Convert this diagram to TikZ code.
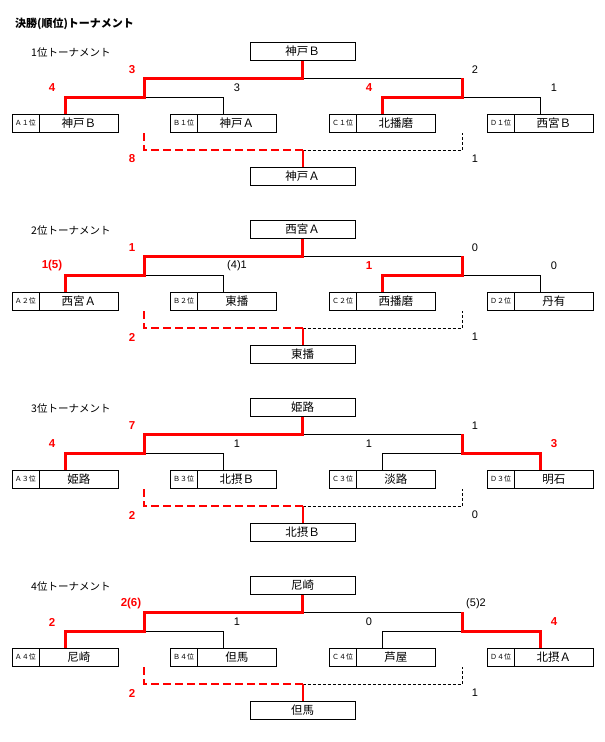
\documentclass[tikz,border=0pt]{standalone}
\usepackage{fontspec}
\setmainfont{Liberation Sans}
\newfontfamily\jp{Noto Sans CJK JP}
\usetikzlibrary{calc}
\definecolor{redline}{RGB}{255,0,0}
\tikzset{
  box/.style={draw, line width=0.9pt, inner sep=0pt, minimum width=105pt, minimum height=18pt, font=\jp\fontsize{11.5}{11.5}\selectfont},
  teambox/.style={draw, line width=0.9pt, inner sep=0pt, minimum width=106pt, minimum height=18pt},
  cell/.style={draw, line width=0.9pt, inner sep=0pt, minimum width=27pt, minimum height=18pt, font=\jp\fontsize{7}{7}\selectfont, anchor=west},
  tname/.style={inner sep=0pt, font=\jp\fontsize{11.5}{11.5}\selectfont},
  thin/.style={line width=0.9pt},
  win/.style={draw=redline, line width=3pt, line join=miter},
  windash/.style={draw=redline, line width=2pt, dash pattern=on 8pt off 4pt},
  windrop/.style={draw=redline, line width=2pt},
  losedash/.style={line width=0.8pt, dash pattern=on 3pt off 2pt},
  rscore/.style={text=redline, font=\bfseries\fontsize{11.5}{11.5}\selectfont, inner sep=0pt},
  bscore/.style={font=\fontsize{11}{11}\selectfont, inner sep=0pt},
  heading/.style={anchor=west, inner sep=0pt, font=\jp\fontsize{10.5}{10.5}\selectfont},
}
% #1 prefix, #2 y offset, #3 full-width rank digit, #4 top, #5 A, #6 B, #7 C, #8 D, #9 bottom
\newcommand\Tbracket[9]{%
\begin{scope}[shift={(0,#2)}]
  \node[box] (#1-top) at (302.5,51.5) {#4};
  \node[box] (#1-bot) at (302.5,176) {#9};
  \node[teambox] (#1-A) at (65,123) {};
  \node[cell] (#1-Al) at (#1-A.west) {Ａ#3位};
  \node[tname] (#1-An) at ($(#1-Al.east)!0.5!(#1-A.east)$) {#5};
  \node[teambox] (#1-B) at (223,123) {};
  \node[cell] (#1-Bl) at (#1-B.west) {Ｂ#3位};
  \node[tname] (#1-Bn) at ($(#1-Bl.east)!0.5!(#1-B.east)$) {#6};
  \node[teambox] (#1-C) at (382,123) {};
  \node[cell] (#1-Cl) at (#1-C.west) {Ｃ#3位};
  \node[tname] (#1-Cn) at ($(#1-Cl.east)!0.5!(#1-C.east)$) {#7};
  \node[teambox] (#1-D) at (540,123) {};
  \node[cell] (#1-Dl) at (#1-D.west) {Ｄ#3位};
  \node[tname] (#1-Dn) at ($(#1-Dl.east)!0.5!(#1-D.east)$) {#8};
  \coordinate (#1-J) at (302.5,78);
  \coordinate (#1-L) at (144,78);
  \coordinate (#1-R) at (462,78);
  \coordinate (#1-L2) at (144,97);
  \coordinate (#1-R2) at (462,97);
  \coordinate (#1-LD) at (144,133);
  \coordinate (#1-LM) at (144,150);
  \coordinate (#1-M) at (302.5,150);
  \coordinate (#1-RM) at (462,150);
  \coordinate (#1-RD) at (462,133);
  \draw[thin] (#1-L) -- (#1-R);
  \draw[thin] (#1-L) -- (#1-L2);
  \draw[thin] (#1-R) -- (#1-R2);
  \draw[thin] (#1-A.north) -- (#1-A.north |- #1-L2) -- (#1-B.north |- #1-L2) -- (#1-B.north);
  \draw[thin] (#1-C.north) -- (#1-C.north |- #1-R2) -- (#1-D.north |- #1-R2) -- (#1-D.north);
  \draw[losedash] (#1-M) -- (#1-RM) -- (#1-RD);
  \draw[windash] (#1-LD) -- (#1-LM) -- (#1-M);
  \draw[windrop] (#1-M) -- (#1-bot.north);
\end{scope}}
\begin{document}
\begin{tikzpicture}[x=1pt, y=-1pt]
\useasboundingbox (0,0) rectangle (605,742);
\node[heading, font=\jp\bfseries\fontsize{11}{11}\selectfont] (title) at (15,24) {決勝(順位)トーナメント};

% ---------- block 1
\node[heading] (h1) at (31,53) {1位トーナメント};
\Tbracket{b1}{0}{１}{神戸Ｂ}{神戸Ｂ}{神戸Ａ}{北播磨}{西宮Ｂ}{神戸Ａ}
\draw[win] (b1-top.south) -- (b1-J) -- (b1-L) -- (b1-L2) -- (b1-A.north |- b1-L2) -- (b1-A.north);
\draw[win] (b1-R) -- (b1-R2) -- (b1-C.north |- b1-R2) -- (b1-C.north);
\begin{scope}[shift={(0,0)}]
  \node[rscore] (b1-s1) at (132,70) {3};
  \node[bscore] (b1-s2) at (475,70) {2};
  \node[rscore] (b1-s3) at (52,88) {4};
  \node[bscore] (b1-s4) at (237,88) {3};
  \node[rscore] (b1-s5) at (369,88) {4};
  \node[bscore] (b1-s6) at (554,88) {1};
  \node[rscore] (b1-s7) at (132,159) {8};
  \node[bscore] (b1-s8) at (475,159) {1};
\end{scope}

% ---------- block 2
\node[heading] (h2) at (31,231) {2位トーナメント};
\Tbracket{b2}{178}{２}{西宮Ａ}{西宮Ａ}{東播}{西播磨}{丹有}{東播}
\draw[win] (b2-top.south) -- (b2-J) -- (b2-L) -- (b2-L2) -- (b2-A.north |- b2-L2) -- (b2-A.north);
\draw[win] (b2-R) -- (b2-R2) -- (b2-C.north |- b2-R2) -- (b2-C.north);
\begin{scope}[shift={(0,178)}]
  \node[rscore] (b2-s1) at (132,70) {1};
  \node[bscore] (b2-s2) at (475,70) {0};
  \node[rscore] (b2-s3) at (52,88) {1(5)};
  \node[bscore] (b2-s4) at (237,88) {(4)1};
  \node[rscore] (b2-s5) at (369,88) {1};
  \node[bscore] (b2-s6) at (554,88) {0};
  \node[rscore] (b2-s7) at (132,159) {2};
  \node[bscore] (b2-s8) at (475,159) {1};
\end{scope}

% ---------- block 3
\node[heading] (h3) at (31,409) {3位トーナメント};
\Tbracket{b3}{356}{３}{姫路}{姫路}{北摂Ｂ}{淡路}{明石}{北摂Ｂ}
\draw[win] (b3-top.south) -- (b3-J) -- (b3-L) -- (b3-L2) -- (b3-A.north |- b3-L2) -- (b3-A.north);
\draw[win] (b3-R) -- (b3-R2) -- (b3-D.north |- b3-R2) -- (b3-D.north);
\begin{scope}[shift={(0,356)}]
  \node[rscore] (b3-s1) at (132,70) {7};
  \node[bscore] (b3-s2) at (475,70) {1};
  \node[rscore] (b3-s3) at (52,88) {4};
  \node[bscore] (b3-s4) at (237,88) {1};
  \node[bscore] (b3-s5) at (369,88) {1};
  \node[rscore] (b3-s6) at (554,88) {3};
  \node[rscore] (b3-s7) at (132,159) {2};
  \node[bscore] (b3-s8) at (475,159) {0};
\end{scope}

% ---------- block 4
\node[heading] (h4) at (31,587) {4位トーナメント};
\Tbracket{b4}{534}{４}{尼崎}{尼崎}{但馬}{芦屋}{北摂Ａ}{但馬}
\draw[win] (b4-top.south) -- (b4-J) -- (b4-L) -- (b4-L2) -- (b4-A.north |- b4-L2) -- (b4-A.north);
\draw[win] (b4-R) -- (b4-R2) -- (b4-D.north |- b4-R2) -- (b4-D.north);
\begin{scope}[shift={(0,534)}]
  \node[rscore] (b4-s1) at (131,70) {2(6)};
  \node[bscore] (b4-s2) at (476,70) {(5)2};
  \node[rscore] (b4-s3) at (52,88) {2};
  \node[bscore] (b4-s4) at (237,88) {1};
  \node[bscore] (b4-s5) at (369,88) {0};
  \node[rscore] (b4-s6) at (554,88) {4};
  \node[rscore] (b4-s7) at (132,159) {2};
  \node[bscore] (b4-s8) at (475,159) {1};
\end{scope}
\end{tikzpicture}
\end{document}
